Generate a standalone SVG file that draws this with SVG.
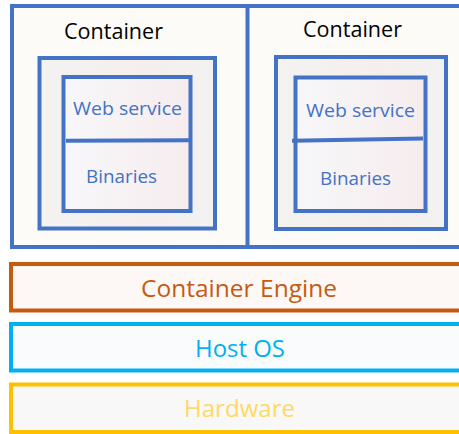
<svg xmlns="http://www.w3.org/2000/svg" width="459" height="434" viewBox="0 0 459 434">
  <defs>
    <linearGradient id="boxFill" x1="0" y1="0" x2="1" y2="0">
      <stop offset="0" stop-color="#F3F3F1"/>
      <stop offset="0.6" stop-color="#F5EEEC"/>
      <stop offset="1" stop-color="#F2F2F2"/>
    </linearGradient>
    <linearGradient id="appFill" x1="0" y1="0" x2="1" y2="0">
      <stop offset="0" stop-color="#F7F7F9"/>
      <stop offset="1" stop-color="#F6ECEE"/>
    </linearGradient>
    <style>
      .outer { fill: #FDFBF7; stroke: #4472C4; stroke-width: 4; }
      .box { fill: url(#boxFill); stroke: #4472C4; stroke-width: 4; }
      .app { fill: url(#appFill); stroke: #4472C4; stroke-width: 4; }
      .sep { stroke: #4472C4; stroke-width: 4; fill: none; }
      text { font-family: "Open Sans", "Liberation Sans", sans-serif; }
      .title { font-size: 21px; fill: #000000; }
      .lbl { font-size: 18px; fill: #4472C4; }
      .layer { font-size: 24px; text-anchor: middle; }
    </style>
  </defs>

  <!-- containers -->
  <g id="container-left">
    <rect class="outer" x="12" y="6" width="236" height="241"/>
    <text class="title" x="64" y="39" textLength="99" lengthAdjust="spacingAndGlyphs">Container</text>
    <rect class="box" x="39.5" y="58" width="175.5" height="170.5"/>
    <rect class="app" x="63.5" y="77" width="127" height="134"/>
    <line class="sep" x1="66" y1="140.8" x2="189" y2="140.2"/>
    <text class="lbl" x="73" y="115" textLength="109" lengthAdjust="spacingAndGlyphs">Web service</text>
    <text class="lbl" x="86" y="183" textLength="71" lengthAdjust="spacingAndGlyphs">Binaries</text>
  </g>

  <g id="container-right">
    <rect class="outer" x="247.5" y="6" width="230" height="241"/>
    <text class="title" x="303" y="37" textLength="99" lengthAdjust="spacingAndGlyphs">Container</text>
    <rect class="box" x="276" y="57" width="170" height="172"/>
    <rect class="app" x="295.5" y="77.5" width="130" height="133.5"/>
    <line class="sep" x1="292" y1="140.8" x2="423" y2="138.6"/>
    <text class="lbl" x="306" y="117" textLength="109" lengthAdjust="spacingAndGlyphs">Web service</text>
    <text class="lbl" x="320" y="185" textLength="71" lengthAdjust="spacingAndGlyphs">Binaries</text>
  </g>

  <!-- platform layers -->
  <g id="container-engine">
    <rect x="11" y="264" width="460" height="46.5" fill="#FDF8F5" stroke="#C55A11" stroke-width="4"/>
    <text class="layer" x="239" y="297" fill="#C55A11" textLength="196" lengthAdjust="spacingAndGlyphs">Container Engine</text>
  </g>

  <g id="host-os">
    <rect x="11" y="324" width="460" height="46.5" fill="#FAFBFD" stroke="#00B0F0" stroke-width="4"/>
    <text class="layer" x="240" y="357" fill="#00B0F0" textLength="90" lengthAdjust="spacingAndGlyphs">Host OS</text>
  </g>

  <g id="hardware">
    <rect x="11" y="384.5" width="460" height="47.5" fill="#F8F8F8" stroke="#FFC000" stroke-width="4"/>
    <text class="layer" x="239.5" y="417" fill="#FFD966" textLength="111" lengthAdjust="spacingAndGlyphs">Hardware</text>
  </g>

  <g id="connectors"/>
</svg>
